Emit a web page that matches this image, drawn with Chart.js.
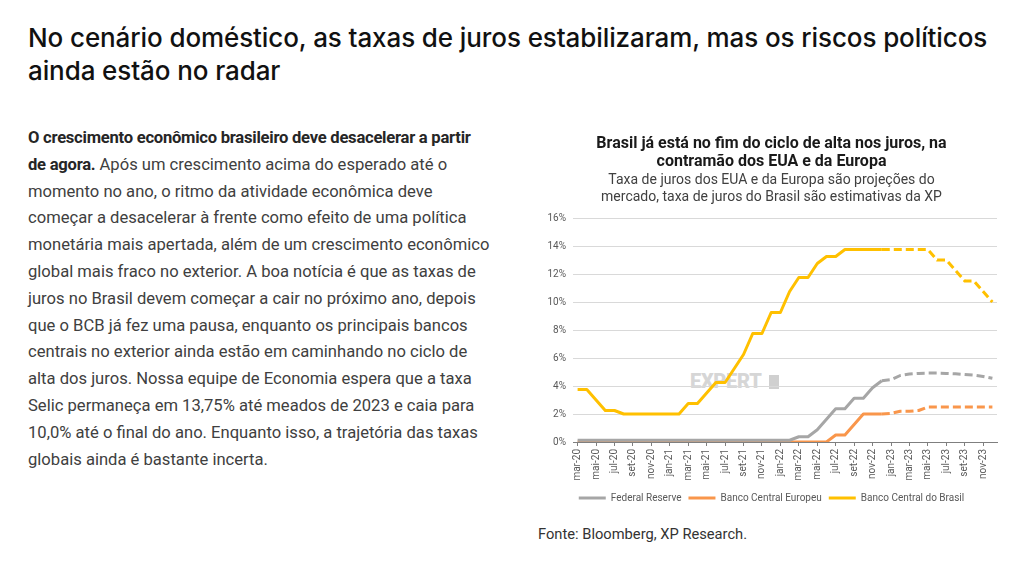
<!DOCTYPE html>
<html lang="pt-BR">
<head>
<meta charset="utf-8">
<title>Juros</title>
<script src="https://cdn.jsdelivr.net/npm/chart.js@4.4.1/dist/chart.umd.min.js"></script>
<style>
  html, body { margin: 0; padding: 0; background: #fff; }
  body { width: 1024px; height: 561px; position: relative; overflow: hidden; }
  .heading {
    position: absolute; left: 28px; top: 21px;
    font-family: 'Inter', sans-serif; font-size: 26px; font-weight: 500; line-height: 33px;
    color: #111; white-space: nowrap; letter-spacing: -0.1px;
  }
  .texto {
    position: absolute; left: 28px; top: 125px;
    font-family: 'Roboto', sans-serif; font-size: 16.6px; line-height: 26.8px;
    color: #404040; white-space: nowrap;
  }
  .texto b { color: #262626; font-weight: 700; letter-spacing: -0.25px; }
  .fonte {
    position: absolute; left: 538px; top: 525px;
    font-family: 'Roboto', sans-serif; font-size: 14.7px; color: #333;
  }
  .marca {
    position: absolute; left: 690px; top: 369px;
    font-family: 'Roboto', sans-serif; font-weight: 900; font-size: 20px;
    color: #d6d6d6; letter-spacing: -0.3px;
  }
  .marca span {
    display: inline-block; width: 10px; height: 14px; margin-left: 7px;
    background: #d0d0d0; vertical-align: -1px;
  }
  .box { position: absolute; left: 530px; top: 125px; width: 480px; height: 388px; }
</style>
</head>
<body>
<div class="heading">No cenário doméstico, as taxas de juros estabilizaram, mas os riscos políticos<br>ainda estão no radar</div>

<div class="texto"><b>O crescimento econômico brasileiro deve desacelerar a partir<br>de agora.</b> Após um crescimento acima do esperado até o<br>momento no ano, o ritmo da atividade econômica deve<br>começar a desacelerar à frente como efeito de uma política<br>monetária mais apertada, além de um crescimento econômico<br>global mais fraco no exterior. A boa notícia é que as taxas de<br>juros no Brasil devem começar a cair no próximo ano, depois<br>que o BCB já fez uma pausa, enquanto os principais bancos<br>centrais no exterior ainda estão em caminhando no ciclo de<br>alta dos juros. Nossa equipe de Economia espera que a taxa<br>Selic permaneça em 13,75% até meados de 2023 e caia para<br>10,0% até o final do ano. Enquanto isso, a trajetória das taxas<br>globais ainda é bastante incerta.</div>

<div class="marca">EXPERT<span></span></div>

<div class="box"><canvas id="jurosChart"></canvas></div>

<div class="fonte">Fonte: Bloomberg, XP Research.</div>

<script>
const meses = [
    'mar-20', 'abr-20', 'mai-20', 'jun-20', 'jul-20', 'ago-20', 'set-20', 'out-20', 'nov-20', 'dez-20',
    'jan-21', 'fev-21', 'mar-21', 'abr-21', 'mai-21', 'jun-21', 'jul-21', 'ago-21', 'set-21', 'out-21', 'nov-21', 'dez-21',
    'jan-22', 'fev-22', 'mar-22', 'abr-22', 'mai-22', 'jun-22', 'jul-22', 'ago-22', 'set-22', 'out-22', 'nov-22', 'dez-22',
    'jan-23', 'fev-23', 'mar-23', 'abr-23', 'mai-23', 'jun-23', 'jul-23', 'ago-23', 'set-23', 'out-23', 'nov-23', 'dez-23'
];

const fed = [
    0.125, 0.125, 0.125, 0.125, 0.125, 0.125, 0.125, 0.125, 0.125, 0.125,
    0.125, 0.125, 0.125, 0.125, 0.125, 0.125, 0.125, 0.125, 0.125, 0.125, 0.125, 0.125,
    0.125, 0.125, 0.375, 0.375, 0.875, 1.625, 2.375, 2.375, 3.125, 3.125, 3.875, 4.375,
    4.45, 4.75, 4.85, 4.9, 4.92, 4.92, 4.9, 4.87, 4.82, 4.77, 4.68, 4.55
];

const bce = [
    0, 0, 0, 0, 0, 0, 0, 0, 0, 0,
    0, 0, 0, 0, 0, 0, 0, 0, 0, 0, 0, 0,
    0, 0, 0, 0, 0, 0, 0.5, 0.5, 1.25, 2.0, 2.0, 2.0,
    2.05, 2.2, 2.2, 2.25, 2.5, 2.5, 2.5, 2.5, 2.5, 2.5, 2.5, 2.5
];

const selic = [
    3.75, 3.75, 3.0, 2.25, 2.25, 2.0, 2.0, 2.0, 2.0, 2.0,
    2.0, 2.0, 2.75, 2.75, 3.5, 4.25, 4.25, 5.25, 6.25, 7.75, 7.75, 9.25,
    9.25, 10.75, 11.75, 11.75, 12.75, 13.25, 13.25, 13.75, 13.75, 13.75, 13.75, 13.75,
    13.75, 13.75, 13.75, 13.75, 13.75, 13.0, 13.0, 12.25, 11.5, 11.5, 10.75, 10.0
];

// a partir de dez-22 os valores são projeções (linha tracejada)
const inicioProjecao = 33;

const tracejado = {
    borderDash: ctx => ctx.p0DataIndex >= inicioProjecao ? [8, 4] : undefined
};

const ctx = document.getElementById('jurosChart').getContext('2d');
new Chart(ctx, {
    type: 'line',
    data: {
        labels: meses,
        datasets: [
            {
                label: 'Federal Reserve',
                data: fed,
                borderColor: '#a6a6a6',
                backgroundColor: '#a6a6a6',
                borderWidth: 3,
                segment: tracejado,
            },
            {
                label: 'Banco Central Europeu',
                data: bce,
                borderColor: '#f9964b',
                backgroundColor: '#f9964b',
                borderWidth: 3,
                segment: tracejado,
            },
            {
                label: 'Banco Central do Brasil',
                data: selic,
                borderColor: '#ffc000',
                backgroundColor: '#ffc000',
                borderWidth: 3,
                segment: tracejado,
            },
        ],
    },
    options: {
        responsive: true,
        maintainAspectRatio: false,
        animation: false,
        elements: {
            point: { radius: 0, hoverRadius: 0 },
            line: { tension: 0, borderCapStyle: 'butt', borderJoinStyle: 'round' },
        },
        layout: {
            padding: { top: 0, right: 13, bottom: 0, left: 16 }
        },
        plugins: {
            title: {
                display: true,
                text: ['Brasil já está no fim do ciclo de alta nos juros, na', 'contramão dos EUA e da Europa'],
                color: '#1a1a1a',
                font: { family: 'Roboto', size: 16, weight: 'bold', lineHeight: 18 / 16 },
                padding: { top: 10, bottom: 0 },
            },
            subtitle: {
                display: true,
                text: ['Taxa de juros dos EUA e da Europa são projeções do', 'mercado, taxa de juros do Brasil são estimativas da XP'],
                color: '#404040',
                font: { family: 'Roboto', size: 14, lineHeight: 17 / 14 },
                padding: { top: 1, bottom: 12 },
            },
            legend: {
                position: 'bottom',
                labels: {
                    usePointStyle: true,
                    pointStyle: 'line',
                    pointStyleWidth: 27,
                    color: '#595959',
                    font: { family: 'Roboto', size: 10 },
                    padding: 7,
                },
            },
            tooltip: { enabled: false },
        },
        scales: {
            x: {
                offset: true,
                grid: {
                    drawOnChartArea: false,
                    drawTicks: true,
                    tickLength: 4,
                    color: '#7f7f7f',
                },
                border: { display: true, color: '#7f7f7f', width: 1 },
                ticks: {
                    autoSkip: false,
                    maxRotation: 90,
                    minRotation: 90,
                    padding: 3,
                    color: '#595959',
                    font: { family: 'Roboto', size: 10 },
                    callback: function (value, index) {
                        return index % 2 === 0 ? meses[index] : null;
                    },
                },
                afterFit: scale => { scale.height = 44; },
            },
            y: {
                min: 0,
                max: 16,
                grid: { color: '#d9d9d9', drawTicks: false },
                border: { display: false },
                ticks: {
                    stepSize: 2,
                    padding: 7,
                    color: '#595959',
                    font: { family: 'Roboto', size: 10 },
                    callback: value => value + '%',
                },
                afterFit: scale => { scale.width = 27; },
            },
        },
    },
});
</script>
</body>
</html>
